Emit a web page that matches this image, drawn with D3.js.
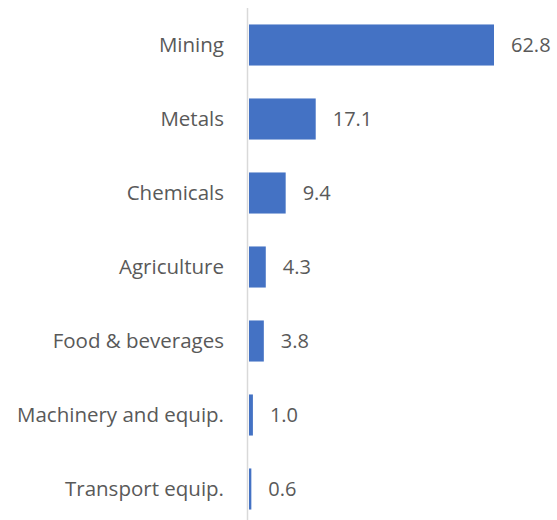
<!DOCTYPE html>
<html>
<head>
<meta charset="utf-8">
<script src="https://cdn.jsdelivr.net/npm/d3@7"></script>
<style>
  html, body { margin: 0; padding: 0; background: #fff; }
  svg { display: block; }
  text { font-family: "Open Sans", sans-serif; fill: #595959; }
</style>
</head>
<body>
<svg id="chart" width="557" height="520"></svg>
<script>
const categories = ["Mining", "Metals", "Chemicals", "Agriculture", "Food & beverages", "Machinery and equip.", "Transport equip."];
const values = [62.8, 17.1, 9.4, 4.3, 3.8, 1.0, 0.6];
const valueLabels = ["62.8", "17.1", "9.4", "4.3", "3.8", "1.0", "0.6"];

const svg = d3.select("#chart");
const x0 = 249;

const x = d3.scaleLinear().domain([0, 62.8]).range([x0, 494]);
const y = d3.scaleBand().domain(categories).range([8, 526]).paddingInner(0.445).paddingOuter(0.2225);

// bars
svg.selectAll("rect.bar").data(categories).join("rect")
  .attr("class", "bar")
  .attr("x", x(0))
  .attr("y", d => y(d))
  .attr("width", (d, i) => x(values[i]) - x(0))
  .attr("height", y.bandwidth())
  .attr("fill", "#4472c4");

// vertical category axis line
svg.append("line")
  .attr("x1", 247.5).attr("x2", 247.5)
  .attr("y1", 8).attr("y2", 526)
  .attr("stroke", "#d9d9d9").attr("stroke-width", 1.5);

// category labels
svg.selectAll("text.cat").data(categories).join("text")
  .attr("class", "cat")
  .attr("x", 224)
  .attr("y", d => y(d) + y.bandwidth() / 2)
  .attr("dy", "0.35em")
  .attr("text-anchor", "end")
  .attr("font-size", 20.5)
  .text(d => d);

// value labels
svg.selectAll("text.val").data(categories).join("text")
  .attr("class", "val")
  .attr("x", (d, i) => x(values[i]) + 17)
  .attr("y", d => y(d) + y.bandwidth() / 2)
  .attr("dy", "0.35em")
  .attr("font-size", 20)
  .text((d, i) => valueLabels[i]);
</script>
</body>
</html>
